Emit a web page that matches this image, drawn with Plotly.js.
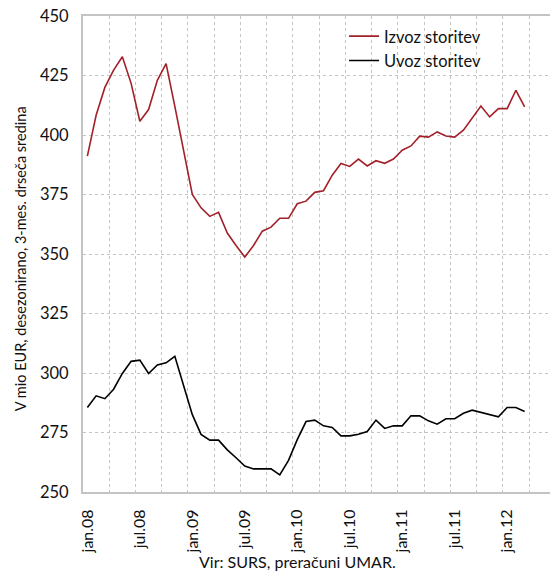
<!DOCTYPE html>
<html>
<head>
<meta charset="utf-8">
<script src="https://cdn.plot.ly/plotly-3.0.1.min.js"></script>
<style>html,body{margin:0;padding:0;background:#fff;}#chart{width:550px;height:572px;}</style>
</head>
<body>
<div id="chart"></div>
<script>
var months = ["jan.08","feb.08","mar.08","apr.08","maj.08","jun.08","jul.08","avg.08","sep.08","okt.08","nov.08","dec.08",
              "jan.09","feb.09","mar.09","apr.09","maj.09","jun.09","jul.09","avg.09","sep.09","okt.09","nov.09","dec.09",
              "jan.10","feb.10","mar.10","apr.10","maj.10","jun.10","jul.10","avg.10","sep.10","okt.10","nov.10","dec.10",
              "jan.11","feb.11","mar.11","apr.11","maj.11","jun.11","jul.11","avg.11","sep.11","okt.11","nov.11","dec.11",
              "jan.12","feb.12","mar.12"];
var izvozStoritev = [391.1,408.3,420.0,427.3,432.9,421.7,405.8,410.7,423.0,430.0,412.0,393.0,
                     375.0,369.4,365.8,367.5,358.8,353.6,348.7,353.6,359.6,361.3,365.0,365.0,
                     371.1,372.2,375.9,376.6,383.1,388.0,386.8,389.9,387.0,389.2,388.1,389.9,
                     393.6,395.4,399.5,399.1,401.3,399.6,399.1,402.0,407.3,412.2,407.6,411.1,
                     411.1,418.8,411.8];
var uvozStoritev = [285.5,290.4,289.2,293.2,299.8,304.9,305.4,299.8,303.4,304.3,307.0,295.0,
                    282.5,274.2,271.8,271.8,267.7,264.4,260.9,259.7,259.7,259.7,257.2,263.3,
                    272.0,279.6,280.2,277.8,277.1,273.6,273.6,274.3,275.4,280.2,276.7,277.8,
                    277.8,282.0,282.0,279.9,278.5,280.8,280.8,283.1,284.4,283.4,282.7,281.6,
                    285.5,285.5,283.8];
var tickLabels = ["jan.08","jul.08","jan.09","jul.09","jan.10","jul.10","jan.11","jul.11","jan.12"];
var seriesNames = ["Izvoz storitev","Uvoz storitev"];
var yTitle = "V mio EUR, desezonirano, 3-mes. drseča sredina";
var sourceNote = "Vir: SURS, preračuni UMAR.";

var xIdx = months.map(function(m, i){ return i; });
var tickIdx = tickLabels.map(function(l){ return months.indexOf(l); });
var gridIdx = [];
for (var g = -0.5; g < 53; g += 3) gridIdx.push(g);

var FONT = "Lato, 'Open Sans', sans-serif";
var GRID = "#c4c4c4";

var traces = [
  {x: xIdx, y: izvozStoritev, name: seriesNames[0], type: "scatter", mode: "lines",
   line: {color: "#a3202a", width: 1.6}},
  {x: xIdx, y: uvozStoritev, name: seriesNames[1], type: "scatter", mode: "lines",
   line: {color: "#000000", width: 1.6}}
];

var layout = {
  width: 550, height: 572,
  margin: {l: 83, r: 0, t: 16, b: 80},
  paper_bgcolor: "#fff", plot_bgcolor: "#fff",
  font: {family: FONT, size: 16, color: "#111"},
  showlegend: true,
  legend: {x: 0.559, y: 0.994, xanchor: "left", yanchor: "top", bgcolor: "rgba(0,0,0,0)",
           font: {family: FONT, size: 16.5, color: "#111"}, tracegroupgap: 0},
  xaxis: {
    range: [-0.5, 52.9], showgrid: false, zeroline: false,
    tickmode: "array", tickvals: tickIdx, ticktext: tickLabels,
    tickangle: -90, ticks: "", ticklabelstandoff: 9,
    tickfont: {family: FONT, size: 16, color: "#111"},
    showline: true, linecolor: GRID, linewidth: 2, mirror: true,
    minor: {tickmode: "array", tickvals: gridIdx, showgrid: true, gridcolor: GRID,
            griddash: "dot", gridwidth: 1, ticks: ""}
  },
  yaxis: {
    range: [250, 450], dtick: 25, tick0: 250, zeroline: false,
    showgrid: true, gridcolor: GRID, griddash: "dot", gridwidth: 1,
    ticks: "", ticklabelstandoff: 9,
    tickfont: {family: FONT, size: 16.5, color: "#111"},
    showline: true, linecolor: GRID, linewidth: 2
  },
  annotations: [
    {text: yTitle, xref: "paper", yref: "paper", x: -0.134, y: 0.49, xanchor: "center", yanchor: "middle",
     textangle: -90, showarrow: false, font: {family: FONT, size: 14.5, color: "#111"}},
    {text: sourceNote, xref: "paper", yref: "paper", x: 0.459, y: -0.146, xanchor: "center", yanchor: "middle",
     showarrow: false, font: {family: FONT, size: 16, color: "#111"}}
  ]
};

Plotly.newPlot("chart", traces, layout, {displayModeBar: false, staticPlot: true});
</script>
</body>
</html>
